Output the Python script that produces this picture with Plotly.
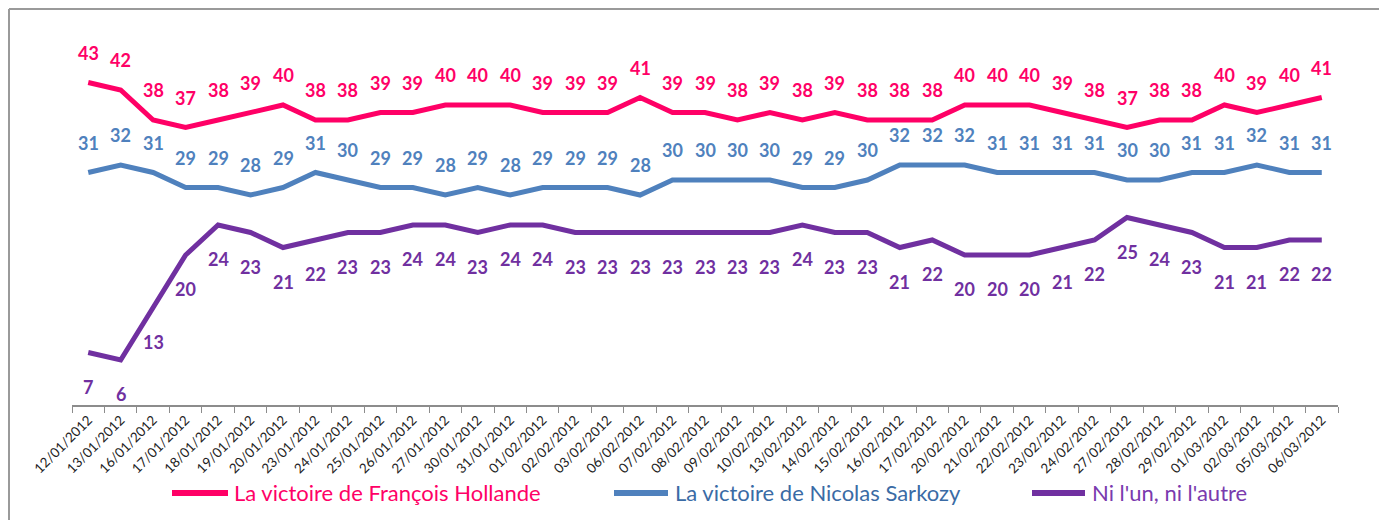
import plotly.graph_objects as go

dates = ["12/01/2012","13/01/2012","16/01/2012","17/01/2012","18/01/2012","19/01/2012","20/01/2012",
         "23/01/2012","24/01/2012","25/01/2012","26/01/2012","27/01/2012","30/01/2012","31/01/2012",
         "01/02/2012","02/02/2012","03/02/2012","06/02/2012","07/02/2012","08/02/2012","09/02/2012",
         "10/02/2012","13/02/2012","14/02/2012","15/02/2012","16/02/2012","17/02/2012","20/02/2012",
         "21/02/2012","22/02/2012","23/02/2012","24/02/2012","27/02/2012","28/02/2012","29/02/2012",
         "01/03/2012","02/03/2012","05/03/2012","06/03/2012"]
hollande = [43,42,38,37,38,39,40,38,38,39,39,40,40,40,39,39,39,41,39,39,38,39,38,39,38,38,38,40,40,40,39,38,37,38,38,40,39,40,41]
sarkozy = [31,32,31,29,29,28,29,31,30,29,29,28,29,28,29,29,29,28,30,30,30,30,29,29,30,32,32,32,31,31,31,31,30,30,31,31,32,31,31]
ni = [7,6,13,20,24,23,21,22,23,23,24,24,23,24,24,23,23,23,23,23,23,23,24,23,23,21,22,20,20,20,21,22,25,24,23,21,21,22,22]

series = [
    ("La victoire de François Hollande", hollande, "#FF0066", "#FF0066", 30),
    ("La victoire de Nicolas Sarkozy", sarkozy, "#4F81BD", "#3A6BA5", 30),
    ("Ni l'un, ni l'autre", ni, "#7030A0", "#7A3AAE", -34),
]

OFF = 8  # page body margin
W, H = 1387 - OFF, 520 - OFF
L, R, T, B = 72 - OFF, 1338 - OFF, 30 - OFF, 405 - OFF
pw, ph = R - L, B - T

def px(x):
    return (x - OFF - L) / pw

def py(y):
    return (B - (y - OFF)) / ph

fig = go.Figure()
annotations = []
shapes = []
for name, vals, color, tcolor, shift in series:
    fig.add_trace(go.Scatter(x=dates, y=vals, mode="lines", name=name,
                             line=dict(color=color, width=5), showlegend=False))
    for d, v in zip(dates, vals):
        annotations.append(dict(x=d, y=v, text=str(v), showarrow=False, yshift=shift,
                                font=dict(family="Lato", size=18, color=color, weight="bold")))

# custom legend
legend_pos = [(172, 228, 232), (614, 668, 673), (1032, 1085, 1090)]
for (name, vals, color, tcolor, shift), (x0, x1, xt) in zip(series, legend_pos):
    shapes.append(dict(type="line", xref="paper", yref="paper", x0=px(x0), x1=px(x1),
                       y0=py(493), y1=py(493), line=dict(color=color, width=6)))
    annotations.append(dict(xref="paper", yref="paper", x=px(xt), y=py(493), text=name,
                            showarrow=False, xanchor="left", yanchor="middle",
                            font=dict(family="Lato", size=22, color=tcolor)))

# outer frame (left and top edges)
shapes.append(dict(type="line", xref="paper", yref="paper", x0=px(9), x1=px(9),
                   y0=py(9), y1=py(540), line=dict(color="#9a9a9a", width=2)))
shapes.append(dict(type="line", xref="paper", yref="paper", x0=px(9), x1=px(1420),
                   y0=py(9), y1=py(9), line=dict(color="#9a9a9a", width=2)))

fig.update_layout(
    width=W, height=H,
    margin=dict(l=L, r=W - R, t=T, b=H - B),
    paper_bgcolor="white", plot_bgcolor="white",
    annotations=annotations, shapes=shapes,
    xaxis=dict(type="category", range=[-0.5, len(dates) - 0.5], tickangle=-45,
               tickson="boundaries", ticks="outside", ticklen=6, tickcolor="#8c8c8c",
               showline=True, linecolor="#8c8c8c", linewidth=2, showgrid=False,
               tickfont=dict(family="Lato", size=13.5, color="#222222")),
    yaxis=dict(range=[0, 50], visible=False),
)

fig.write_html("out.html")
